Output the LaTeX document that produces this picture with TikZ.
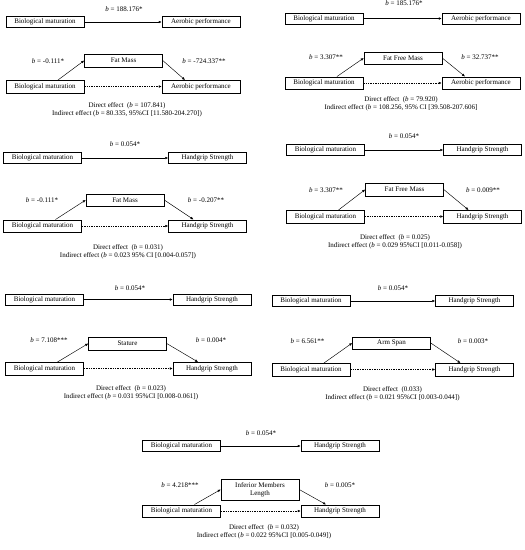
\documentclass[tikz,border=0pt]{standalone}
\usepackage{fontspec}
\setmainfont{Liberation Serif}
\usetikzlibrary{calc}
\usetikzlibrary{arrows.meta}

\tikzset{
  var/.style={draw, line width=0.5pt, minimum width=78pt, minimum height=11pt, inner sep=1pt, font=\fontsize{7}{8}\selectfont},
  varlow/.style={var, minimum height=12.5pt},
  coef/.style={inner sep=0pt, font=\fontsize{7}{8}\selectfont},
  effect/.style={inner sep=0pt, align=center, font=\fontsize{7}{8.2}\selectfont},
  path/.style={-{Latex[length=3pt,width=2.6pt]}, line width=0.45pt},
  direct/.style={path, dash pattern=on 1.4pt off 1pt},
}

\begin{document}
\begin{tikzpicture}[x=1pt,y=-1pt]
\useasboundingbox (0,0) rectangle (525,550);
% aerobic, fat mass
\node[var] (x1) at (45,22) {Biological maturation};
\node[var] (y1) at (201,22) {Aerobic performance};
\node[coef] (c1) at (124,9) {\textit{b} = 188.176*};
\node[varlow] (m1) at (123.5,60.5) {Fat Mass};
\node[varlow] (xx1) at (45,86.5) {Biological maturation};
\node[varlow] (yy1) at (201,86.5) {Aerobic performance};
\node[coef] (a1) at (48,61) {\textit{b} = -0.111*};
\node[coef] (b1) at (204,61) {\textit{b} = -724.337**};
\node[effect] (e1) at (127,109.5) {Direct effect\ \ (\textit{b} = 107.841)\\Indirect effect (\textit{b} = 80.335, 95\%CI [11.580-204.270])};
\draw[path] (x1) -- (y1);
\draw[path] ([xshift=13]xx1.north) -- (m1.west);
\draw[path] (m1.east) -- ([xshift=-16]yy1.north);
\draw[direct] (xx1) -- (yy1);

% aerobic, fat free mass
\node[var] (x2) at (324,18.5) {Biological maturation};
\node[var] (y2) at (481,18.5) {Aerobic performance};
\node[coef] (c2) at (404,3) {\textit{b} = 185.176*};
\node[varlow] (m2) at (403,58) {Fat Free Mass};
\node[varlow] (xx2) at (324,83) {Biological maturation};
\node[varlow] (yy2) at (481,83) {Aerobic performance};
\node[coef] (a2) at (326,57) {\textit{b} = 3.307**};
\node[coef] (b2) at (480,57) {\textit{b} = 32.737**};
\node[effect] (e2) at (401,103.5) {Direct effect\ \ (\textit{b} = 79.920)\\Indirect effect (\textit{b} = 108.256, 95\% CI [39.508-207.606]};
\draw[path] (x2) -- (y2);
\draw[path] ([xshift=13]xx2.north) -- (m2.west);
\draw[path] (m2.east) -- ([xshift=-16]yy2.north);
\draw[direct] (xx2) -- (yy2);

% handgrip, fat mass
\node[var] (x3) at (42.5,158) {Biological maturation};
\node[var] (y3) at (207.5,158) {Handgrip Strength};
\node[coef] (c3) at (125,144) {\textit{b} = 0.054*};
\node[varlow] (m3) at (125,200) {Fat Mass};
\node[varlow] (xx3) at (42.5,226) {Biological maturation};
\node[varlow] (yy3) at (207.5,226) {Handgrip Strength};
\node[coef] (a3) at (42,200.5) {\textit{b} = -0.111*};
\node[coef] (b3) at (206,200.5) {\textit{b} = -0.207**};
\node[effect] (e3) at (128,251.5) {Direct effect\ \ (\textit{b} = 0.031)\\Indirect effect (\textit{b} = 0.023 95\% CI [0.004-0.057])};
\draw[path] (x3) -- (y3);
\draw[path] ([xshift=13]xx3.north) -- (m3.west);
\draw[path] (m3.east) -- ([xshift=-14]yy3.north);
\draw[direct] (xx3) -- (yy3);

% handgrip, fat free mass
\node[var] (x4) at (325.5,150) {Biological maturation};
\node[var] (y4) at (482.5,150) {Handgrip Strength};
\node[coef] (c4) at (404,136) {\textit{b} = 0.054*};
\node[varlow] (m4) at (404.5,189.5) {Fat Free Mass};
\node[varlow] (xx4) at (325.5,216.5) {Biological maturation};
\node[varlow] (yy4) at (482.5,216.5) {Handgrip Strength};
\node[coef] (a4) at (326,190.5) {\textit{b} = 3.307**};
\node[coef] (b4) at (483,190.5) {\textit{b} = 0.009**};
\node[effect] (e4) at (395,241.5) {Direct effect\ \ (\textit{b} = 0.025)\\Indirect effect (\textit{b} = 0.029 95\%CI [0.011-0.058])};
\draw[path] (x4) -- (y4);
\draw[path] ([xshift=13]xx4.north) -- (m4.west);
\draw[path] (m4.east) -- ([xshift=-14]yy4.north);
\draw[direct] (xx4) -- (yy4);

% handgrip, stature
\node[var] (x5) at (44.5,299.5) {Biological maturation};
\node[var] (y5) at (212,299.5) {Handgrip Strength};
\node[coef] (c5) at (130,288) {\textit{b} = 0.054*};
\node[varlow] (m5) at (127.5,343.5) {Stature};
\node[varlow] (xx5) at (44.5,368.5) {Biological maturation};
\node[varlow] (yy5) at (212,368.5) {Handgrip Strength};
\node[coef] (a5) at (49,340) {\textit{b} = 7.108***};
\node[coef] (b5) at (211,340) {\textit{b} = 0.004*};
\node[effect] (e5) at (131,393) {Direct effect\ \ (\textit{b} = 0.023)\\Indirect effect (\textit{b} = 0.031 95\%CI [0.008-0.061])};
\draw[path] (x5) -- (y5);
\draw[path] ([xshift=13]xx5.north) -- (m5.west);
\draw[path] (m5.east) -- ([xshift=-14]yy5.north);
\draw[direct] (xx5) -- (yy5);

% handgrip, arm span
\node[var] (x6) at (311,301) {Biological maturation};
\node[var] (y6) at (474.5,301) {Handgrip Strength};
\node[coef] (c6) at (393,288) {\textit{b} = 0.054*};
\node[varlow] (m6) at (391.5,343) {Arm Span};
\node[varlow] (xx6) at (311,369.5) {Biological maturation};
\node[varlow] (yy6) at (474.5,369.5) {Handgrip Strength};
\node[coef] (a6) at (307.5,341.5) {\textit{b} = 6.561**};
\node[coef] (b6) at (473,341.5) {\textit{b} = 0.003*};
\node[effect] (e6) at (392.5,394) {Direct effect\ \ (0.033)\\Indirect effect (\textit{b} = 0.021 95\%CI [0.003-0.044])};
\draw[path] (x6) -- (y6);
\draw[path] ([xshift=13]xx6.north) -- (m6.west);
\draw[path] (m6.east) -- ([xshift=-14]yy6.north);
\draw[direct] (xx6) -- (yy6);

% handgrip, inferior members length
\node[var] (x7) at (181.5,446) {Biological maturation};
\node[var] (y7) at (340,446) {Handgrip Strength};
\node[coef] (c7) at (261,433) {\textit{b} = 0.054*};
\node[varlow, align=center, minimum height=21pt] (m7) at (260,489.5) {Inferior Members\\Length};
\node[varlow] (xx7) at (181.5,511) {Biological maturation};
\node[varlow] (yy7) at (340,511) {Handgrip Strength};
\node[coef] (a7) at (180,485) {\textit{b} = 4.218***};
\node[coef] (b7) at (340,485) {\textit{b} = 0.005*};
\node[effect] (e7) at (264,532) {Direct effect\ \ (\textit{b} = 0.032)\\Indirect effect (\textit{b} = 0.022 95\%CI [0.005-0.049])};
\draw[path] (x7) -- (y7);
\draw[path] ([xshift=13]xx7.north) -- (m7.west);
\draw[path] (m7.east) -- ([xshift=-14]yy7.north);
\draw[direct] (xx7) -- (yy7);
\end{tikzpicture}
\end{document}
